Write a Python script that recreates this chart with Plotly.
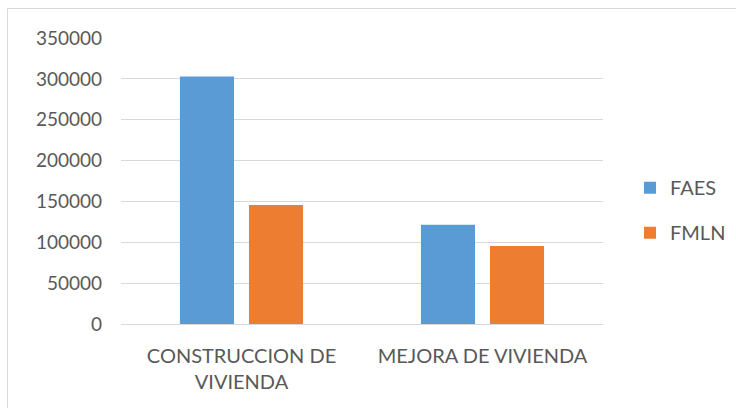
import plotly.graph_objects as go

categories = ["CONSTRUCCION DE<br>VIVIENDA", "MEJORA DE VIVIENDA"]
faes = [303000, 121500]
fmln = [145500, 95500]
series_names = ["FAES", "FMLN"]
y_ticks = [0, 50000, 100000, 150000, 200000, 250000, 300000, 350000]

FONT = "Lato"
TXT = "#595959"

fig = go.Figure()
fig.add_trace(go.Bar(name=series_names[0], x=categories, y=faes,
                     marker=dict(color="#5b9bd5", line=dict(width=0)),
                     legendgroup="a"))
fig.add_trace(go.Bar(name=series_names[1], x=categories, y=fmln,
                     marker=dict(color="#ed7d31", line=dict(width=0)),
                     legendgroup="b"))

fig.update_layout(
    width=736, height=408,
    margin=dict(l=121, r=133, t=38, b=84, autoexpand=False),
    paper_bgcolor="white", plot_bgcolor="white",
    barmode="group", bargap=0.427, bargroupgap=0.217,
    font=dict(family=FONT, size=19, color=TXT),
    showlegend=True,
    legend=dict(x=0.056, y=0.398, xanchor="left", yanchor="middle",
                font=dict(family=FONT, size=20, color=TXT),
                tracegroupgap=16, bgcolor="rgba(0,0,0,0)"),
    xaxis=dict(showgrid=False, showline=True, linecolor="#d9d9d9", linewidth=1,
               ticks="", tickfont=dict(family=FONT, size=20, color=TXT),
               ticklabelstandoff=14, automargin=False),
    yaxis=dict(range=[0, 350000], tickvals=y_ticks,
               ticktext=[str(v) for v in y_ticks],
               showgrid=True, gridcolor="#d9d9d9", gridwidth=1,
               zeroline=False, showline=False, ticks="",
               tickfont=dict(family=FONT, size=19, color=TXT),
               ticklabelstandoff=18, automargin=False),
    shapes=[dict(type="rect", xref="paper", yref="paper",
                 x0=-0.2355, x1=1.72, y0=-0.32, y1=1.103,
                 line=dict(color="#d9d9d9", width=1), fillcolor="rgba(0,0,0,0)",
                 layer="below")],
)
fig.layout.legend.x = 1.056

fig.write_html("out.html", config={"displayModeBar": False},
               post_script="document.body.style.margin='0';document.body.style.padding='0';")
